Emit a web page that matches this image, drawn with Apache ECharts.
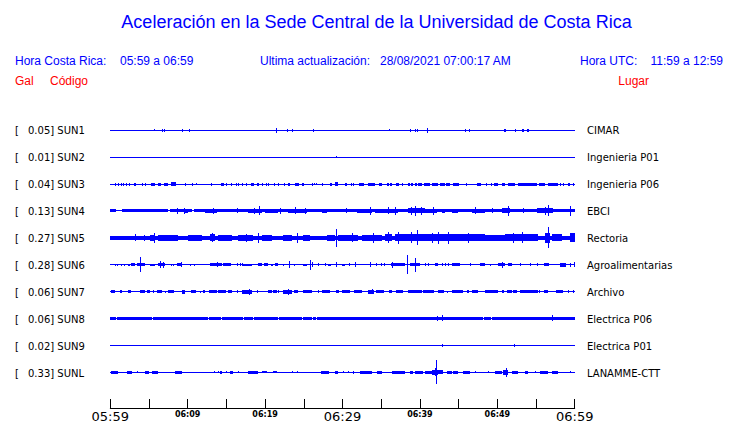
<!DOCTYPE html>
<html>
<head>
<meta charset="utf-8">
<script src="https://cdn.jsdelivr.net/npm/echarts@6/dist/echarts.min.js"></script>
<style>
html,body{margin:0;padding:0;background:#fff;}
#c{width:740px;height:423px;}
</style>
</head>
<body>
<div id="c"></div>
<script>
// ---- data (times in minutes after 05:59; amplitude = half trace height, px) ----
const timeLabels = ['05:59','06:09','06:19','06:29','06:39','06:49','06:59'];
const codes  = ['SUN1','SUN2','SUN3','SUN4','SUN5','SUN6','SUN7','SUN8','SUN9','SUNL'];
const gals   = ['0.05','0.01','0.04','0.13','0.27','0.28','0.06','0.06','0.02','0.33'];
const places = ['CIMAR','Ingenieria P01','Ingenieria P06','EBCI','Rectoria','Agroalimentarias','Archivo','Electrica P06','Electrica P01','LANAMME-CTT'];

// each entry: [t, amp] (single spike) or [t0, t1, amp] (burst)
const sun1 = [[0,60,0.5],[5.7,1],[6.64,1.5],[6.9,1.5],[9.22,1.5],[10.21,1.5],[21.36,2.5],[22.87,1.5],[23.51,1.5],[26.23,1.5],[36.05,1],[38.76,1.5],[39.41,1.5],[39.62,1.5],[40.96,2.5],[45.87,1.5],[46.38,1.5],[50.9,51.1,1.5],[52.33,1.5],[53.2,53.5,1.5],[53.85,54.05,1.5]];
const sun2 = [[0,60,0.5],[29.2,1]];
const sun3 = [[0,60,0.5],[0.6,1.5],[0.95,1.5],[1.34,1.5],[1.68,1.5],[2.02,1.5],[2.37,1.5],[3.1,3.3,1.5],[4.05,1.5],[4.48,1.5],[5.3,5.8,1.5],[6.1,6.5,1.5],[6.95,7.4,1.5],[7.8,8.45,1.8],[9.69,1.5],[10.59,1.5],[11.02,1],[13.01,1.5],[14.3,14.64,1.5],[14.99,1.5],[15.55,1.5],[16.24,1.5],[16.49,1.5],[16.97,1.5],[17.53,1.5],[18.17,18.52,1.5],[18.91,19.25,1.5],[19.55,1.5],[20.11,1.5],[20.41,1.5],[21.19,1.5],[21.71,1.5],[22.39,22.6,1.5],[22.9,23.17,1.5],[23.82,24.38,1.5],[24.72,25.06,1.5],[26.01,1.5],[26.36,1],[26.57,1],[27.3,1.5],[28.42,28.6,1.5],[29.03,29.37,2],[30.32,30.58,1.5],[31.05,1.5],[31.35,1.5],[32.13,32.82,1.5],[33.33,34.19,1.5],[34.71,35.14,1.5],[35.74,36.0,1.5],[36.2,36.43,1.5],[36.86,37.3,1.5],[37.73,1.5],[38.5,38.7,1.5],[38.9,39.15,1.5],[39.36,39.6,1.5],[39.8,40.3,1.5],[40.5,41.3,1.5],[41.52,42.38,1.5],[42.55,43.24,1.5],[43.41,43.88,1.5],[44.23,45.05,1.5],[45.99,1.5],[47.33,47.85,1.5],[48.54,1.5],[49.14,1.5],[49.61,50.04,1.5],[50.56,50.98,1.5],[51.42,52.28,1.5],[52.71,55.08,1.5],[55.38,56.16,1.5],[56.5,57.79,1.5],[58.09,1.5],[58.53,1.5],[59.17,59.43,1.5],[59.82,1.5]];
const sun4 = [[0,60,0.5],[0,0.8,1.5],[1.47,7.5,1.5],[7.7,10.5,1.5],[10.85,60,1.5],[8.57,3],[9.56,3],[9.65,10.08,2],[12.23,13.74,2],[13.31,3],[16.32,2.5],[17.83,19.55,2],[18.6,3],[19.21,4.5],[19.98,21.7,2],[21.92,3],[23.0,25.37,2],[23.86,3.5],[25.15,3],[27.3,27.95,2],[30.45,2.5],[31.83,33.77,2],[33.55,4],[34.2,37.2,2],[35.9,3.5],[36.78,4],[38.5,40.65,2.5],[38.9,4],[39.36,5],[40.1,4],[40.65,42.16,2],[41.73,4],[42.8,43.24,2],[44.1,44.96,2],[46.69,48.4,2],[47.1,3.5],[49.27,2.5],[50.56,51.64,2.5],[51.33,5],[53.36,2.5],[55.08,57.24,2.5],[56.6,5.5],[56.2,4],[59.4,5]];
const sun5 = [[0,60,2.2],[3.19,3.5],[4.39,3],[5.13,5.77,3],[5.69,5],[6.2,7.28,2.8],[7.28,8.79,2.8],[10.08,11.8,2.8],[12.88,13.52,3.5],[13.2,4.5],[13.95,15.68,2.8],[16.54,18.48,3],[17.5,4],[19.12,5],[19.55,20.84,3],[22.35,23.43,2.8],[24.08,5],[24.94,25.8,3],[27.95,29.03,3],[29.12,9],[29.46,32.04,3],[31.2,4.5],[32.47,35.06,3],[33.9,5],[35.49,36.35,3.5],[35.92,5.5],[36.78,38.07,3.5],[37.2,6],[38.07,40.65,3.5],[39.58,7.5],[38.9,5.5],[40.65,44.96,3.5],[42.38,6],[43.67,6],[41.5,5],[44.96,48.4,3.5],[46.2,5],[48.4,50.99,3],[50.99,55.3,3.5],[53.14,5.5],[52.0,5],[56.16,56.8,5],[56.59,10.5],[57.02,58.31,3.5],[59.4,60,4.5]];
const sun6 = [[0,60,0.5],[0.6,1],[0.9,1],[1.38,1],[1.72,1],[2.24,2.54,1],[2.67,3.19,1.5],[3.49,4.48,1.5],[3.88,7.5],[5.13,5.77,1],[6.2,7.06,1.5],[6.42,3.5],[6.85,3],[7.84,1],[8.14,1],[8.57,9.3,1.5],[9.13,2.5],[10.3,1],[10.85,1],[12.88,14.38,1.5],[13.74,2.5],[14.6,15.55,1.5],[16.32,1.5],[16.75,1.5],[16.97,1.5],[17.18,18.26,1],[19.12,19.55,1.5],[19.9,20.33,1.5],[20.76,21.06,1],[21.28,21.7,1.5],[22.26,1],[23.08,3.5],[23.73,1],[24.94,25.37,1],[25.84,5],[26.1,2.5],[26.87,1.5],[27.73,1.5],[28.16,28.51,1],[29.11,2.5],[29.89,30.32,1],[30.88,1.5],[31.61,2.5],[33.55,2.5],[34.28,1.5],[34.97,1.5],[35.36,1.5],[36.26,38.07,1.5],[36.43,3],[38.29,9.5],[38.72,40.0,1.5],[39.36,7],[40.65,1.5],[41.08,1.5],[41.94,42.38,1.5],[42.81,1.5],[43.24,1.5],[43.67,1.5],[44.1,45.18,1.5],[46.47,1.5],[47.76,48.4,1.5],[49.05,1],[50.13,50.99,1.5],[50.56,3],[51.42,51.85,1.5],[52.93,1.5],[54.22,1.5],[55.12,1.5],[56.07,56.72,1.5],[58.09,58.83,2],[59.4,2],[59.91,2.5]];
const sun7 = [[0,60,0.5],[0.09,0.6,1.5],[1.25,1.55,1.5],[2.24,2.67,1.5],[3.84,4.48,1.5],[4.7,5.13,1.5],[5.56,1.5],[5.99,6.72,1.5],[7.06,1],[7.49,8.27,1.5],[9.3,9.65,2],[10.42,11.02,1.5],[11.58,1],[12.01,12.23,1.5],[12.79,13.74,1.5],[13.95,14.9,1.5],[15.25,15.76,1.5],[16.32,1.5],[16.97,18.26,2],[17.92,3],[18.91,1.5],[20.33,20.84,1.5],[21.06,21.49,1.5],[21.71,1.5],[22.35,23.43,2],[22.91,3],[23.77,24.2,1.5],[24.94,26.1,1.5],[26.79,1.5],[27.3,28.38,1.5],[29.16,29.59,1.5],[29.89,30.97,1.5],[31.53,32.56,1.5],[33.33,34.11,2],[33.77,2.5],[34.28,35.4,1.5],[35.99,36.43,1.5],[36.86,37.85,1.5],[38.41,40.22,1.5],[40.43,41.86,1.5],[42.38,43.15,1.5],[43.45,1],[44.1,45.61,1.5],[46.04,46.34,1.5],[46.69,47.46,1.5],[48.4,50.13,1.5],[50.56,50.9,1.5],[51.2,51.85,1.5],[52.07,52.5,1.5],[52.93,55.3,1.5],[55.43,1.5],[56.07,56.59,1.5],[57.54,58.53,1.5],[59.09,1.5],[59.82,1.5]];
const sun8 = [[0,60,0.5],[0,0.75,1.7],[0.9,5.38,1.7],[5.5,12.6,1.7],[12.73,14.25,1.7],[14.38,17.12,1.7],[17.25,18.5,1.7],[18.63,21.73,1.7],[21.86,24.75,1.7],[24.88,26.05,1.7],[26.18,26.6,1.7],[26.73,48.13,1.7],[48.26,49.2,1.7],[49.33,60,1.7],[42.16,2.5],[42.9,3],[57.1,3]];
const sun9 = [[0,60,0.5],[42.8,43.0,1.5],[52.2,1.5]];
const sunl = [[0,60,0.5],[0.09,1.04,1.5],[2.11,2.76,1.5],[3.49,1],[4.48,5.0,1.5],[5.43,6.12,1.5],[8.36,9.3,1.5],[13.44,1],[13.87,1],[14.17,14.47,1.5],[14.9,1],[15.46,15.89,1.5],[16.54,1],[17.83,19.12,1.5],[19.55,20.2,1],[21.06,21.49,1],[23.43,1],[24.08,1],[27.22,28.25,1.5],[29.03,29.46,1.5],[30.1,1],[30.66,1],[31.4,1.5],[32.26,33.77,1.5],[34.41,35.06,1.5],[36.35,38.07,1.5],[38.72,39.15,1.5],[39.36,40.44,1.5],[40.65,41.51,1.5],[41.51,42.38,2.5],[41.9,42.25,4],[42.07,12],[42.38,43.02,2],[43.45,44.1,1.5],[44.32,44.96,1.5],[45.61,46.47,1.5],[47.12,1],[48.84,1],[49.7,50.56,1.5],[50.77,51.42,2.5],[51.12,4.5],[51.85,52.71,1.5],[53.57,54.0,1.5],[54.86,1],[55.51,56.59,1.5],[57.02,57.88,1.5],[59.4,1]];

const traces = [sun1,sun2,sun3,sun4,sun5,sun6,sun7,sun8,sun9,sunl];

// ---- layout ----
const ROW = 27;               // spacing between traces (axis units = px)
const GRID_TOP = 116.8;
const GRID_LEFT = 110.3;
const GRID_W = 464.4;
const Y_MAX = 292.5;
const BLUE = '#0000ff';
const rowCenter = i => ROW/2 + ROW*i;
const rowPix = i => GRID_TOP + rowCenter(i);

function normalize(arr){
  return arr.map(d => d.length === 2 ? [d[0], d[0], d[1]] : d);
}

const series = traces.map((tr, i) => ({
  type: 'custom',
  clip: false,
  silent: true,
  data: normalize(tr),
  renderItem: function(params, api){
    const t0 = api.value(0), t1 = api.value(1), a = api.value(2);
    const p0 = api.coord([t0, rowCenter(i)]);
    const p1 = api.coord([t1, rowCenter(i)]);
    const hpx = Math.max(1, Math.round(Math.abs(api.size([0, 2*a])[1])));
    const x0 = Math.round(p0[0]);
    const w = Math.max(1, Math.round(p1[0]) - x0);
    const y0 = Math.round(p0[1] - hpx/2);
    return {type:'rect', shape:{x:x0, y:y0, width:w, height:hpx}, style:{fill:BLUE}};
  }
}));

const graphics = [];
function txt(x, y, s, opt){
  graphics.push({type:'text', x:x, y:y, silent:true, style:Object.assign({
    text:s, fill:BLUE, font:'12px "Liberation Sans", Arial, sans-serif',
    textAlign:'left', textVerticalAlign:'middle'}, opt||{})});
}
txt(376.5, 22, 'Aceleración en la Sede Central de la Universidad de Costa Rica',
    {font:'18px "Liberation Sans", Arial, sans-serif', textAlign:'center'});
txt(15, 61, 'Hora Costa Rica:');
txt(120, 61, '05:59 a 06:59');
txt(260, 61, 'Ultima actualización:');
txt(380, 61, '28/08/2021 07:00:17 AM');
txt(580, 61, 'Hora UTC:');
txt(723, 61, '11:59 a 12:59', {textAlign:'right'});
txt(15, 81, 'Gal', {fill:'#ff0000'});
txt(50, 81, 'Código', {fill:'#ff0000'});
txt(649, 81, 'Lugar', {fill:'#ff0000', textAlign:'right'});

const lab = {fill:'#000', font:'10px "DejaVu Sans", sans-serif'};
codes.forEach((c, i) => {
  const y = rowPix(i);
  txt(15, y, '[', lab);
  txt(28, y, gals[i] + '] ' + c, lab);
  txt(587, y, places[i], lab);
});

const chart = echarts.init(document.getElementById('c'), null, {renderer:'svg'});
chart.setOption({
  animation: false,
  backgroundColor: '#fff',
  grid: {left: GRID_LEFT, top: GRID_TOP, width: GRID_W, height: Y_MAX},
  xAxis: {
    type: 'value', min: 0, max: 60, interval: 5, position: 'bottom',
    axisLine: {show: true, onZero: false, lineStyle: {color: '#000', width: 1}},
    axisTick: {show: true, inside: true, length: 9, lineStyle: {color: '#000', width: 1}},
    splitLine: {show: false},
    axisLabel: {
      margin: 1,
      formatter: function(v){
        if (v % 10 !== 0) return '';
        const s = timeLabels[v/10];
        return (v % 30 === 0) ? '{big|' + s + '}' : '{small|' + s + '}';
      },
      rich: {
        big: {fontSize: 13, fontFamily: 'DejaVu Sans', color: '#000', lineHeight: 15},
        small: {fontSize: 8, fontWeight: 'bold', fontFamily: 'DejaVu Sans', color: '#000', lineHeight: 11}
      }
    }
  },
  yAxis: {type: 'value', min: 0, max: Y_MAX, inverse: true, show: false},
  graphic: graphics,
  series: series
});
</script>
</body>
</html>
